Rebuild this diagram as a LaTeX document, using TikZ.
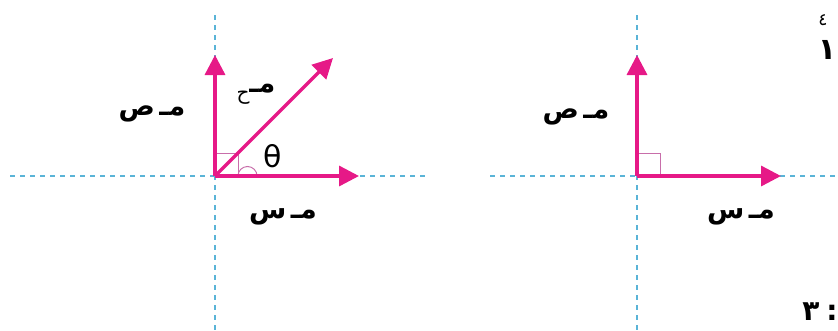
\documentclass[tikz,border=0pt]{standalone}
\usepackage{fontspec}
\usepackage{tikz}
\usetikzlibrary{arrows.meta}
\TeXXeTstate=1
\newfontfamily\arabicfont[Script=Arabic]{DejaVu Sans}
\newfontfamily\greekfont{DejaVu Sans}
\definecolor{vecpink}{RGB}{230, 25, 135}
\definecolor{axisblue}{RGB}{90, 180, 215}
\definecolor{anglepink}{RGB}{200, 110, 170}
\tikzset{
	axisline/.style={axisblue, dashed, dash pattern=on 5pt off 5pt, line width=1.2pt},
	vec/.style={vecpink, line width=3.4pt, -{Triangle[length=20pt,width=20pt]}},
	rightangle/.style={anglepink, line width=1pt},
	lbl/.style={font=\arabicfont\bfseries\fontsize{27}{27}\selectfont, inner sep=0pt},
}
\newcommand{\comp}[1]{\beginR مـ\,#1\endR}
\begin{document}
\begin{tikzpicture}[x=1pt, y=-1pt]
	\useasboundingbox (0,0) rectangle (838,330);
	\def\sq{23}
	% Figure 1: resultant at angle theta
	\coordinate (O1) at (215,176);
	\coordinate (Y1) at (215,55);
	\coordinate (X1) at (359,176);
	\coordinate (R1) at (333,58);
	\draw[axisline] (10,176) -- (428,176);
	\draw[axisline] (215,15) -- (215,330);
	\draw[rightangle] (O1) rectangle ++(\sq,-\sq);
	\draw[rightangle] (257,176) arc (0:-180:9.5);
	\draw[vec] (O1) -- (Y1);
	\draw[vec] (O1) -- (X1);
	\draw[vec] (O1) -- (R1);

	\node[lbl] (fy1) at (152,114) {\comp{ص}};
	\node[lbl] (fr1) at (256,94) {\beginR مـ\raisebox{-7pt}{\mdseries\fontsize{20}{20}\selectfont ح}\endR};
	\node[lbl] (fx1) at (283,217) {\comp{س}};
	\node[font=\greekfont\fontsize{30}{30}\selectfont, inner sep=0pt] (th1) at (273,156) {θ};

	% Figure 2: two perpendicular components
	\coordinate (O2) at (637,176);
	\coordinate (Y2) at (637,55);
	\coordinate (X2) at (781,176);
	\draw[axisline] (490,176) -- (838,176);
	\draw[axisline] (637,15) -- (637,330);
	\draw[rightangle] (O2) rectangle ++(\sq,-\sq);
	\draw[vec] (O2) -- (Y2);
	\draw[vec] (O2) -- (X2);

	\node[lbl] (fy2) at (576,117) {\comp{ص}};
	\node[lbl] (fx2) at (741,217) {\comp{س}};

	% page fragments at the right edge
	\node[font=\arabicfont\fontsize{17}{17}\selectfont, inner sep=0pt] (n4) at (823,20) {\beginR ٤\endR};
	\node[font=\arabicfont\bfseries\fontsize{30}{30}\selectfont, inner sep=0pt] (n1) at (827,50) {\beginR ١\endR};
	\node[font=\arabicfont\bfseries\fontsize{28}{28}\selectfont, inner sep=0pt] (n3) at (820,312) {\beginR :\hspace{7pt}٣\endR};
\end{tikzpicture}
\end{document}
